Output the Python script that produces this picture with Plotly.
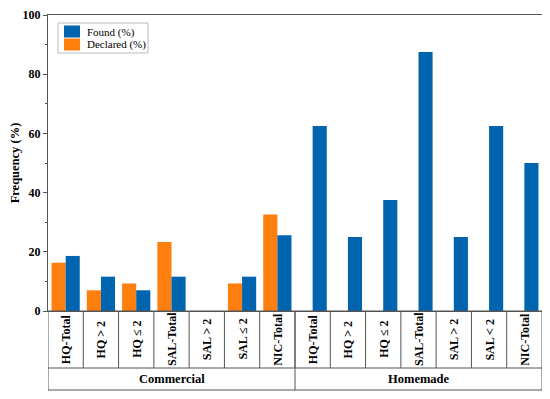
import plotly.graph_objects as go

categories = ["HQ-Total", "HQ > 2", "HQ ≤ 2", "SAL-Total", "SAL > 2", "SAL ≤ 2", "NIC-Total",
              "HQ-Total", "HQ > 2", "HQ ≤ 2", "SAL-Total", "SAL > 2", "SAL < 2", "NIC-Total"]
groups = ["Commercial", "Homemade"]
group_sizes = [7, 7]
found = [18.6, 11.6, 7.0, 11.6, 0, 11.6, 25.6,
         62.5, 25.0, 37.5, 87.5, 25.0, 62.5, 50.0]
declared = [16.3, 7.0, 9.3, 23.3, 0, 9.3, 32.6,
            None, None, None, None, None, None, None]
y_ticks = [0, 20, 40, 60, 80, 100]

FONT = "'Times New Roman', 'Liberation Serif', serif"
BLUE = "#0064AE"
ORANGE = "#FF7F0E"
LINE = "#555555"

x = list(range(len(categories)))

fig = go.Figure()
fig.add_trace(go.Bar(x=x, y=declared, name="Declared (%)", marker_color=ORANGE,
                     marker_line_width=0, showlegend=False))
fig.add_trace(go.Bar(x=x, y=found, name="Found (%)", marker_color=BLUE,
                     marker_line_width=0, showlegend=False))

# page offset of 8px (body margin) is compensated in margins
PW, PH = 494.0, 296.0  # plot area size in px
TOP = 15  # page y of the 100 line


def px(xp):
    return (xp - 48) / PW


def py(yp):
    return (TOP + PH - yp) / PH


# table below the plot
row1 = py(368)
row2 = py(390)
shapes = []
n = len(categories)
shapes.append(dict(type="rect", xref="x", yref="paper", x0=-0.5, x1=n - 0.5, y0=row2, y1=0,
                   line=dict(color=LINE, width=1)))
shapes.append(dict(type="line", xref="x", yref="paper", x0=-0.5, x1=n - 0.5, y0=row1, y1=row1,
                   line=dict(color=LINE, width=1)))
for i in range(1, n):
    shapes.append(dict(type="line", xref="x", yref="paper", x0=i - 0.5, x1=i - 0.5,
                       y0=row1, y1=0, line=dict(color=LINE, width=1)))
start = 0
for gs in group_sizes[:-1]:
    start += gs
    shapes.append(dict(type="line", xref="x", yref="paper", x0=start - 0.5, x1=start - 0.5,
                       y0=row2, y1=0, line=dict(color=LINE, width=1)))

annotations = []
for i, c in enumerate(categories):
    annotations.append(dict(x=i, y=row1 / 2, xref="x", yref="paper", text=c, textangle=-90,
                            showarrow=False, xanchor="center", yanchor="middle",
                            font=dict(family=FONT, size=12, color="black", weight="bold")))
start = 0
for g, gs in zip(groups, group_sizes):
    annotations.append(dict(x=start + (gs - 1) / 2, y=(row1 + row2) / 2, xref="x", yref="paper",
                            text=g, showarrow=False, xanchor="center", yanchor="middle",
                            font=dict(family=FONT, size=12.5, color="black", weight="bold")))
    start += gs

# custom compact legend
legend_items = [("Found (%)", BLUE), ("Declared (%)", ORANGE)]
shapes.append(dict(type="rect", xref="paper", yref="paper", x0=px(58), x1=px(148),
                   y0=py(53), y1=py(23), line=dict(color="#BBBBBB", width=1),
                   fillcolor="white", layer="above"))
for k, (name, col) in enumerate(legend_items):
    top = 25.5 + k * 13
    shapes.append(dict(type="rect", xref="paper", yref="paper", x0=px(64), x1=px(80),
                       y0=py(top + 12), y1=py(top), line=dict(width=0), fillcolor=col,
                       layer="above"))
    annotations.append(dict(x=px(85), y=py(top + 6.5), xref="paper", yref="paper", text=name,
                            showarrow=False, xanchor="left", yanchor="middle",
                            font=dict(family=FONT, size=11, color="black")))

fig.update_layout(
    width=542, height=391,
    margin=dict(l=40, r=8, t=TOP - 8, b=391 - (TOP - 8) - int(PH), autoexpand=False),
    plot_bgcolor="white", paper_bgcolor="white",
    barmode="group", bargap=0.2, bargroupgap=0,
    showlegend=False,
    xaxis=dict(range=[-0.5, n - 0.5], showticklabels=False, ticks="",
               showline=True, linecolor=LINE, linewidth=1, mirror=True,
               showgrid=False, zeroline=False, fixedrange=True, automargin=False),
    yaxis=dict(range=[0, 100], tickvals=y_ticks, ticks="outside", ticklen=4,
               tickcolor=LINE, tickwidth=1, ticklabeloverflow="allow", automargin=False,
               minor=dict(tickvals=[10, 30, 50, 70, 90], ticks="outside", ticklen=2,
                          tickcolor=LINE, showgrid=False),
               showline=True, linecolor=LINE, linewidth=1, mirror=True,
               showgrid=False, zeroline=False,
               tickfont=dict(family=FONT, size=12, color="black", weight="bold"),
               title=dict(text="Frequency (%)", standoff=8,
                          font=dict(family=FONT, size=12.5, color="black", weight="bold"))),
    shapes=shapes,
    annotations=annotations,
)

fig.write_html("out.html")
